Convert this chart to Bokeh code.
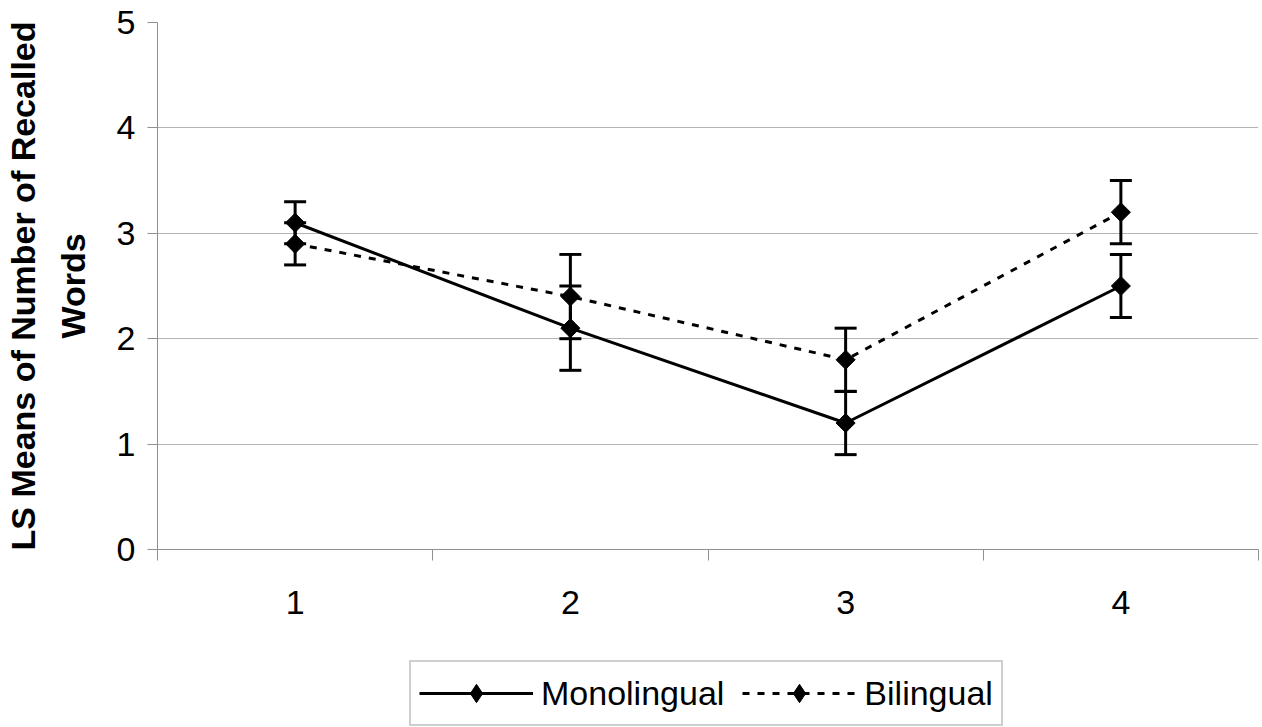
import math
from bokeh.plotting import figure
from bokeh.layouts import column
from bokeh.models import (Range1d, FixedTicker, Whisker, TeeHead, ColumnDataSource,
                          Legend, LegendItem)
from bokeh.embed import file_html
from bokeh.resources import INLINE

# ---- data ----
sessions = [1, 2, 3, 4]
mono = [3.1, 2.1, 1.2, 2.5]
mono_err = [0.2, 0.4, 0.3, 0.3]
bi = [2.9, 2.4, 1.8, 3.2]
bi_err = [0.2, 0.4, 0.3, 0.3]
y_ticks = [0, 1, 2, 3, 4, 5]
x_boundaries = [0.5, 1.5, 2.5, 3.5, 4.5]
series_names = ["Monolingual", "Bilingual"]
y_title = "LS Means of Number of Recalled\nWords"

FONT = "Liberation Sans"
AX_GRAY = "#8f8f8f"

p = figure(width=1262, height=640, output_backend="svg", toolbar_location=None,
           x_range=Range1d(0.5, 4.5), y_range=Range1d(0, 5),
           min_border_left=157, min_border_top=22, min_border_right=4,
           min_border_bottom=91)
p.outline_line_color = None
p.background_fill_color = "white"
p.border_fill_color = "white"

# axes
p.xaxis.ticker = FixedTicker(ticks=sessions, minor_ticks=x_boundaries)
p.xaxis.major_tick_out = 0
p.xaxis.major_tick_in = 0
p.xaxis.minor_tick_out = 11
p.xaxis.minor_tick_in = 0
p.xaxis.minor_tick_line_color = AX_GRAY
p.xaxis.minor_tick_line_width = 1
p.xaxis.axis_line_color = AX_GRAY
p.xaxis.major_label_standoff = 30
p.xaxis.major_label_text_font = FONT
p.xaxis.major_label_text_font_size = "34px"
p.xaxis.major_label_text_color = "black"

p.yaxis.ticker = FixedTicker(ticks=y_ticks)
p.yaxis.minor_tick_line_color = None
p.yaxis.major_tick_out = 10
p.yaxis.major_tick_in = 0
p.yaxis.major_tick_line_color = AX_GRAY
p.yaxis.axis_line_color = AX_GRAY
p.yaxis.major_label_standoff = 12
p.yaxis.major_label_text_font = FONT
p.yaxis.major_label_text_font_size = "34px"
p.yaxis.major_label_text_color = "black"
p.yaxis.axis_label = y_title
p.yaxis.axis_label_text_font = FONT
p.yaxis.axis_label_text_font_size = "34px"
p.yaxis.axis_label_text_font_style = "bold"
p.yaxis.axis_label_text_color = "black"
p.yaxis.axis_label_text_line_height = 1.3
p.yaxis.axis_label_standoff = 22

p.xgrid.grid_line_color = None
p.ygrid.ticker = FixedTicker(ticks=y_ticks[1:])
p.ygrid.grid_line_color = "#b4b4b4"
p.ygrid.grid_line_width = 1

# series
mono_src = ColumnDataSource(dict(x=sessions, y=mono,
                                 upper=[v + e for v, e in zip(mono, mono_err)],
                                 lower=[v - e for v, e in zip(mono, mono_err)]))
bi_src = ColumnDataSource(dict(x=sessions, y=bi,
                               upper=[v + e for v, e in zip(bi, bi_err)],
                               lower=[v - e for v, e in zip(bi, bi_err)]))

p.line("x", "y", source=mono_src, line_color="black", line_width=3)
p.line("x", "y", source=bi_src, line_color="black", line_width=3, line_dash="7 8")

for src in (mono_src, bi_src):
    p.add_layout(Whisker(base="x", upper="upper", lower="lower", source=src,
                         line_color="black", line_width=3,
                         upper_head=TeeHead(size=22, line_width=3, line_color="black"),
                         lower_head=TeeHead(size=22, line_width=3, line_color="black")))

p.scatter("x", "y", source=mono_src, marker="square", angle=math.pi / 4,
          size=13.5, fill_color="black", line_color="black")
p.scatter("x", "y", source=bi_src, marker="square", angle=math.pi / 4,
          size=13.5, fill_color="black", line_color="black")

# ---- legend strip (separate figure below the chart; its data lies out of view) ----
lg = figure(width=1262, height=87, output_backend="svg", toolbar_location=None,
            x_axis_type=None, y_axis_type=None,
            x_range=Range1d(100, 101), y_range=Range1d(100, 101),
            min_border_left=0, min_border_right=0, min_border_top=0,
            min_border_bottom=0)
lg.grid.visible = False
lg.outline_line_color = None
lg.border_fill_color = "white"
l1 = lg.line("x", "y", source=mono_src, line_color="black", line_width=3)
m1 = lg.scatter("x", "y", source=mono_src, marker="diamond", size=23,
                fill_color="black", line_color="black")
l2 = lg.line("x", "y", source=bi_src, line_color="black", line_width=3, line_dash="7 8")
m2 = lg.scatter("x", "y", source=bi_src, marker="diamond", size=23,
                fill_color="black", line_color="black")

legend = Legend(items=[LegendItem(label=series_names[0], renderers=[l1, m1], index=0),
                       LegendItem(label=series_names[1], renderers=[l2, m2], index=0)],
                orientation="horizontal", location=(252, 1),
                border_line_color="#a0a0a0", border_line_width=2,
                label_text_font=FONT, label_text_font_size="34px",
                label_text_color="black",
                glyph_width=114, glyph_height=46, label_standoff=8,
                spacing=18, padding=8, margin=0)
lg.add_layout(legend, "center")

layout = column(p, lg, spacing=0)
open("out.html", "w").write(file_html(layout, INLINE))
